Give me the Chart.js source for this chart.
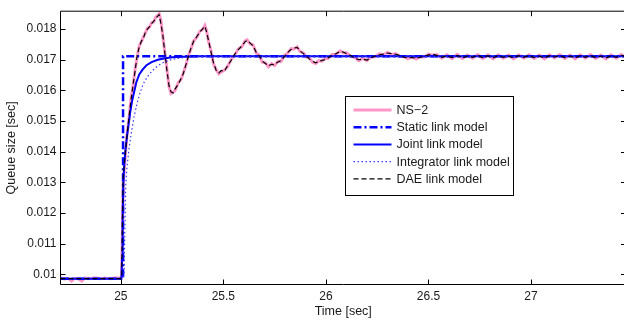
<!DOCTYPE html>
<html>
<head>
<meta charset="utf-8">
<script src="https://cdn.jsdelivr.net/npm/chart.js@4.4.0/dist/chart.umd.min.js"></script>
<style>
  html, body { margin: 0; padding: 0; background: #fff; overflow: hidden; }
  #wrap { width: 628px; height: 324px; }
</style>
</head>
<body>
<div id="wrap"><canvas id="myChart"></canvas></div>
<script>
// time samples for NS-2 and DAE traces (sec)
const tSim = [
  24.706, 24.725, 24.745, 24.760, 24.775, 24.795, 24.810, 24.825, 24.850, 24.875,
  24.900, 24.925, 24.950, 24.975, 25.000, 25.004, 25.008, 25.012, 25.020, 25.030,
  25.040, 25.050, 25.060, 25.070, 25.080, 25.090, 25.100, 25.110, 25.120, 25.130,
  25.140, 25.150, 25.160, 25.170, 25.180, 25.187, 25.195, 25.205, 25.215, 25.225,
  25.235, 25.245, 25.255, 25.265, 25.280, 25.295, 25.305, 25.318, 25.330, 25.342,
  25.355, 25.370, 25.385, 25.398, 25.410, 25.418, 25.428, 25.440, 25.452, 25.465,
  25.478, 25.490, 25.505, 25.520, 25.540, 25.555, 25.572, 25.590, 25.605, 25.615,
  25.630, 25.645, 25.660, 25.675, 25.690, 25.705, 25.720, 25.735, 25.750, 25.765,
  25.780, 25.800, 25.815, 25.830, 25.845, 25.860, 25.875, 25.890, 25.905, 25.920,
  25.935, 25.950, 25.965, 25.980, 25.995, 26.010, 26.030, 26.050, 26.070, 26.085,
  26.100, 26.120, 26.140, 26.160, 26.180, 26.200, 26.220, 26.240, 26.260, 26.280,
  26.300, 26.320, 26.340, 26.360, 26.380, 26.400, 26.420, 26.440, 26.460, 26.480,
  26.500, 26.520, 26.540, 26.565, 26.590, 26.615, 26.640, 26.665, 26.690, 26.715,
  26.740, 26.765, 26.790, 26.815, 26.840, 26.865, 26.890, 26.915, 26.940, 26.965,
  26.990, 27.015, 27.040, 27.065, 27.090, 27.115, 27.140, 27.165, 27.190, 27.215,
  27.240, 27.265, 27.290, 27.315, 27.340, 27.365, 27.390, 27.415, 27.440, 27.463
];

const ns2 = [
  0.00988, 0.00985, 0.00987, 0.00978, 0.00987, 0.00985, 0.00978, 0.00988, 0.00986, 0.00989,
  0.00986, 0.00988, 0.00986, 0.00989, 0.00987, 0.00995, 0.01150, 0.01300, 0.01370, 0.01455,
  0.01510, 0.01575, 0.01615, 0.01670, 0.01710, 0.01745, 0.01758, 0.01774, 0.01788, 0.01803,
  0.01806, 0.01821, 0.01823, 0.01838, 0.01845, 0.01850, 0.01830, 0.01775, 0.01722, 0.01668,
  0.01612, 0.01590, 0.01594, 0.01600, 0.01625, 0.01637, 0.01658, 0.01683, 0.01715, 0.01735,
  0.01762, 0.01772, 0.01793, 0.01798, 0.01812, 0.01795, 0.01760, 0.01728, 0.01686, 0.01668,
  0.01654, 0.01660, 0.01666, 0.01677, 0.01703, 0.01715, 0.01735, 0.01742, 0.01761, 0.01765,
  0.01752, 0.01748, 0.01722, 0.01714, 0.01692, 0.01690, 0.01677, 0.01687, 0.01681, 0.01695,
  0.01694, 0.01715, 0.01722, 0.01736, 0.01735, 0.01742, 0.01726, 0.01723, 0.01709, 0.01705,
  0.01692, 0.01688, 0.01697, 0.01695, 0.01703, 0.01704, 0.01717, 0.01718, 0.01729, 0.01722,
  0.01723, 0.01711, 0.01708, 0.01697, 0.01704, 0.01697, 0.01709, 0.01710, 0.01719, 0.01716,
  0.01724, 0.01717, 0.01720, 0.01711, 0.01710, 0.01703, 0.01709, 0.01702, 0.01710, 0.01709,
  0.01718, 0.01715, 0.01717, 0.01705, 0.01716, 0.01704, 0.01717, 0.01704, 0.01715, 0.01705,
  0.01717, 0.01704, 0.01716, 0.01703, 0.01716, 0.01705, 0.01715, 0.01703, 0.01716, 0.01705,
  0.01716, 0.01704, 0.01715, 0.01703, 0.01716, 0.01706, 0.01717, 0.01704, 0.01715, 0.01703,
  0.01716, 0.01705, 0.01717, 0.01704, 0.01715, 0.01703, 0.01716, 0.01705, 0.01717, 0.01708
];

const dae = [
  0.00986, 0.00986, 0.00986, 0.00986, 0.00986, 0.00986, 0.00986, 0.00986, 0.00986, 0.00986,
  0.00986, 0.00986, 0.00986, 0.00986, 0.00986, 0.00990, 0.01180, 0.01320, 0.01380, 0.01450,
  0.01515, 0.01570, 0.01620, 0.01665, 0.01715, 0.01742, 0.01760, 0.01770, 0.01790, 0.01800,
  0.01808, 0.01818, 0.01825, 0.01835, 0.01842, 0.01847, 0.01820, 0.01780, 0.01720, 0.01665,
  0.01615, 0.01595, 0.01592, 0.01605, 0.01620, 0.01640, 0.01655, 0.01685, 0.01712, 0.01738,
  0.01760, 0.01775, 0.01790, 0.01800, 0.01809, 0.01790, 0.01762, 0.01725, 0.01690, 0.01665,
  0.01657, 0.01665, 0.01662, 0.01680, 0.01700, 0.01718, 0.01732, 0.01745, 0.01758, 0.01763,
  0.01755, 0.01745, 0.01725, 0.01712, 0.01695, 0.01688, 0.01680, 0.01685, 0.01684, 0.01692,
  0.01697, 0.01712, 0.01725, 0.01733, 0.01738, 0.01740, 0.01728, 0.01720, 0.01712, 0.01702,
  0.01695, 0.01690, 0.01694, 0.01698, 0.01700, 0.01706, 0.01714, 0.01720, 0.01727, 0.01725,
  0.01720, 0.01714, 0.01706, 0.01700, 0.01702, 0.01699, 0.01706, 0.01712, 0.01716, 0.01718,
  0.01722, 0.01720, 0.01718, 0.01714, 0.01708, 0.01706, 0.01707, 0.01705, 0.01708, 0.01712,
  0.01716, 0.01718, 0.01714, 0.01708, 0.01713, 0.01707, 0.01714, 0.01706, 0.01712, 0.01708,
  0.01715, 0.01707, 0.01713, 0.01706, 0.01714, 0.01708, 0.01712, 0.01706, 0.01713, 0.01708,
  0.01714, 0.01707, 0.01712, 0.01706, 0.01713, 0.01709, 0.01714, 0.01707, 0.01712, 0.01706,
  0.01713, 0.01708, 0.01714, 0.01707, 0.01712, 0.01706, 0.01713, 0.01708, 0.01714, 0.01710
];

// static link model (step)
const tStatic = [24.706, 25.011, 25.011, 27.463];
const staticLink = [0.00986, 0.00986, 0.01711, 0.01711];

// joint link model
const tJoint = [24.706, 25.003, 25.006, 25.009, 25.012, 25.016, 25.022, 25.030, 25.038, 25.046,
  25.055, 25.065, 25.076, 25.090, 25.105, 25.125, 25.150, 25.180, 25.210, 25.250,
  25.300, 25.380, 27.463];
const joint = [0.00986, 0.00986, 0.01050, 0.01180, 0.01290, 0.01350, 0.01400, 0.01450, 0.01490, 0.01530,
  0.01565, 0.01595, 0.01627, 0.01652, 0.01667, 0.01682, 0.01692, 0.01700, 0.01704, 0.01708,
  0.01710, 0.01711, 0.01711];

// integrator link model
const tInteg = [24.706, 25.010, 25.016, 25.020, 25.024, 25.030, 25.040, 25.052, 25.065, 25.080,
  25.095, 25.110, 25.130, 25.155, 25.180, 25.210, 25.245, 25.290, 25.350, 25.420, 27.463];
const integ = [0.00986, 0.00986, 0.01000, 0.01150, 0.01290, 0.01350, 0.01410, 0.01465, 0.01515, 0.01560,
  0.01595, 0.01622, 0.01645, 0.01665, 0.01680, 0.01692, 0.01700, 0.01706, 0.01709, 0.01711, 0.01711];

const xTicks = [25, 25.5, 26, 26.5, 27];
const yTicks = [0.010, 0.011, 0.012, 0.013, 0.014, 0.015, 0.016, 0.017, 0.018];

const pts = (xs, ys) => xs.map((x, i) => ({ x: x, y: ys[i] }));
const FONT = "'Liberation Sans', Arial, sans-serif";
const TXT = "#1a1a1a";

// box + inward tick marks like matlab
const axesBox = {
  id: "axesBox",
  afterDatasetsDraw(chart) {
    const { ctx, chartArea: a, scales } = chart;
    ctx.save();
    ctx.strokeStyle = "#000";
    ctx.lineWidth = 1;
    ctx.beginPath();
    ctx.rect(a.left, a.top, a.right - a.left, a.bottom - a.top);
    xTicks.forEach((v) => {
      const px = Math.round(scales.x.getPixelForValue(v)) + 0.5;
      ctx.moveTo(px, a.bottom); ctx.lineTo(px, a.bottom - 5);
      ctx.moveTo(px, a.top); ctx.lineTo(px, a.top + 5);
    });
    yTicks.forEach((v) => {
      const py = Math.round(scales.y.getPixelForValue(v)) + 0.5;
      ctx.moveTo(a.left, py); ctx.lineTo(a.left + 5, py);
      ctx.moveTo(a.right, py); ctx.lineTo(a.right - 5, py);
    });
    ctx.stroke();
    ctx.restore();
  },
};

// legend box inside the axes
const boxLegend = {
  id: "boxLegend",
  afterDraw(chart) {
    const ctx = chart.ctx;
    const x0 = 345.5, y0 = 96.5, w = 168, h = 99;
    ctx.save();
    ctx.fillStyle = "#fff";
    ctx.fillRect(x0, y0, w, h);
    ctx.strokeStyle = "#000";
    ctx.lineWidth = 1;
    ctx.strokeRect(x0, y0, w, h);
    ctx.font = "12.5px " + FONT;
    ctx.textBaseline = "middle";
    chart.data.datasets.forEach((ds, i) => {
      const y = y0 + 13.5 + i * 17.2;
      ctx.save();
      ctx.strokeStyle = ds.borderColor;
      ctx.lineWidth = ds.borderWidth;
      ctx.setLineDash(ds.borderDash || []);
      ctx.beginPath();
      ctx.moveTo(x0 + 8, y);
      ctx.lineTo(x0 + 46, y);
      ctx.stroke();
      ctx.restore();
      ctx.fillStyle = TXT;
      ctx.fillText(ds.label, x0 + 51, y + 0.5);
    });
    ctx.restore();
  },
};

const config = {
  type: "line",
  data: {
    datasets: [
      { label: "NS\u22122", data: pts(tSim, ns2), borderColor: "rgb(255,150,200)", borderWidth: 3, order: 5 },
      { label: "Static link model", data: pts(tStatic, staticLink), borderColor: "#0000ff", borderWidth: 2.5, borderDash: [8, 3, 2, 3], order: 4 },
      { label: "Joint link model", data: pts(tJoint, joint), borderColor: "#0000ff", borderWidth: 2, order: 3 },
      { label: "Integrator link model", data: pts(tInteg, integ), borderColor: "#3a3aff", borderWidth: 1.2, borderDash: [1.5, 2.5], order: 2 },
      { label: "DAE link model", data: pts(tSim, dae), borderColor: "#000", borderWidth: 1.2, borderDash: [5, 3], order: 1 },
    ],
  },
  options: {
    responsive: true,
    maintainAspectRatio: false,
    animation: false,
    layout: { padding: { top: 1.5, right: 2, left: 0, bottom: 0 } },
    elements: { point: { radius: 0 }, line: { tension: 0, fill: false } },
    plugins: { legend: { display: false }, tooltip: { enabled: false } },
    scales: {
      x: {
        type: "linear",
        min: 24.706,
        max: 27.463,
        afterBuildTicks: (s) => { s.ticks = xTicks.map((v) => ({ value: v })); },
        afterFit: (s) => { s.height = 39.5; },
        grid: { display: false, drawTicks: false },
        border: { display: false },
        ticks: { padding: 5, color: TXT, font: { family: FONT, size: 12 }, maxRotation: 0, callback: (v) => String(v) },
        title: { display: true, text: "Time [sec]", color: TXT, font: { family: FONT, size: 12.5 }, padding: { top: 0, bottom: 4.5 } },
      },
      y: {
        min: 0.009669,
        max: 0.018583,
        afterBuildTicks: (s) => { s.ticks = yTicks.map((v) => ({ value: v })); },
        afterFit: (s) => { s.width = 60.5; },
        grid: { display: false, drawTicks: false },
        border: { display: false },
        ticks: { padding: 4, color: TXT, font: { family: FONT, size: 12 }, callback: (v) => String(+v.toFixed(3)) },
        title: { display: true, text: "Queue size [sec]", color: TXT, font: { family: FONT, size: 12.5 }, padding: { top: 4.5, bottom: 0 } },
      },
    },
  },
  plugins: [axesBox, boxLegend],
};

const myChart = new Chart(document.getElementById("myChart"), config);
</script>
</body>
</html>
